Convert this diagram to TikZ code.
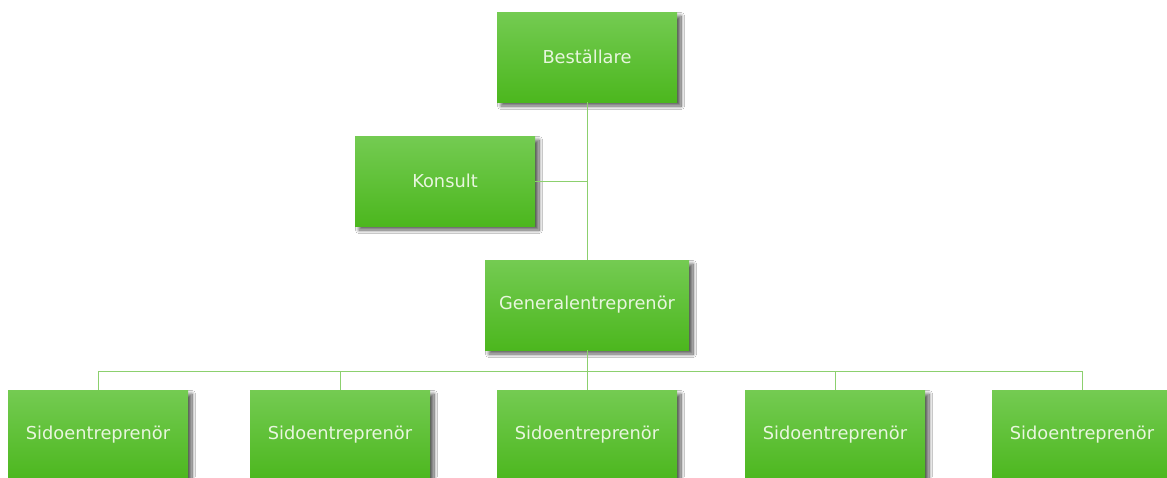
\documentclass[tikz,border=0pt]{standalone}
\usepackage{fontspec}
\setmainfont{DejaVu Sans}
\usetikzlibrary{shadows.blur}
\definecolor{boxtop}{RGB}{116,203,82}
\definecolor{boxbot}{RGB}{76,183,30}
\definecolor{boxtext}{RGB}{232,246,222}
\definecolor{linkc}{RGB}{140,208,110}
\tikzset{
  orgbox/.style={rectangle, minimum width=180pt, minimum height=90pt, inner sep=0pt,
    top color=boxtop, bottom color=boxbot, draw=none,
    text=boxtext, font=\fontsize{17.8}{20}\selectfont,
    blur shadow={shadow xshift=4pt, shadow yshift=-4pt, shadow blur steps=12, shadow blur radius=3.5pt, shadow opacity=65}},
  link/.style={draw=linkc, line width=1pt}
}
\begin{document}
\begin{tikzpicture}[x=1pt,y=-1pt]
\useasboundingbox (0,0) rectangle (1167,477);
\fill[white] (0,0) rectangle (1167,477);
\clip (0,0) rectangle (1167,477);
\coordinate (kj) at (587,181);
\coordinate (bus) at (587,371);
\node[orgbox] (best) at (587,57) {Beställare};
\node[orgbox] (kons) at (445,181) {Konsult};
\node[orgbox, minimum width=204pt] (gen) at (587,305) {Generalentreprenör};
\node[orgbox] (s1) at (98,435) {Sidoentreprenör};
\node[orgbox] (s2) at (340,435) {Sidoentreprenör};
\node[orgbox] (s3) at (587,435) {Sidoentreprenör};
\node[orgbox] (s4) at (835,435) {Sidoentreprenör};
\node[orgbox] (s5) at (1082,435) {Sidoentreprenör};
\draw[link] (best.south) -- (gen.north);
\draw[link] (kons.east) -- (kj);
\draw[link] (gen.south) -- (bus);
\draw[link] (s1.north) -- (s1.north |- bus) -- (s5.north |- bus) -- (s5.north);
\draw[link] (s2.north) -- (s2.north |- bus);
\draw[link] (s3.north) -- (bus);
\draw[link] (s4.north) -- (s4.north |- bus);
\end{tikzpicture}
\end{document}
